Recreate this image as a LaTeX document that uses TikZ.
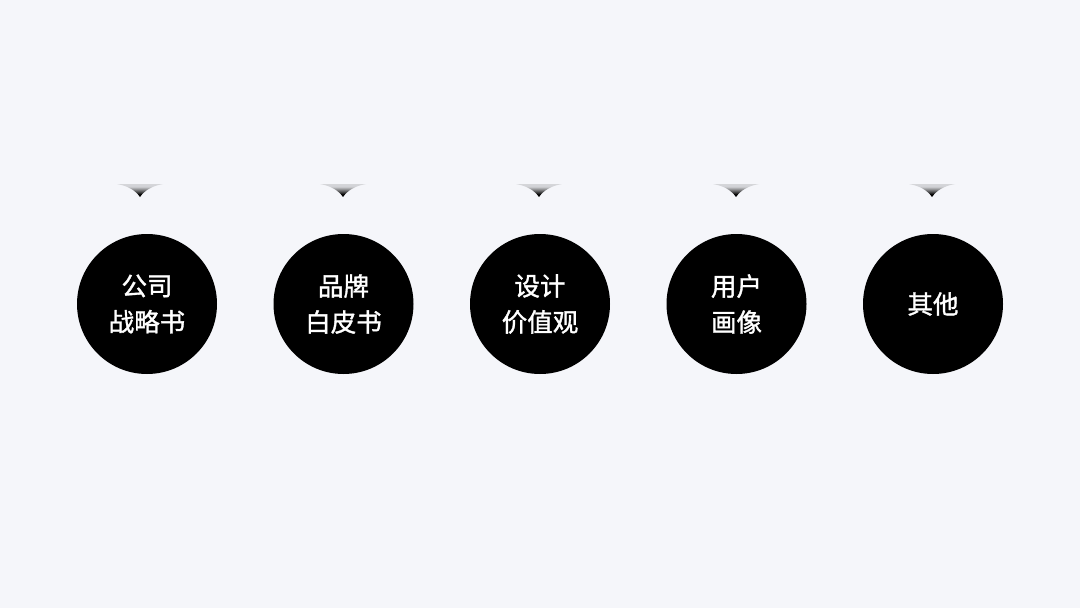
\documentclass[tikz,border=0pt]{standalone}
\usepackage{fontspec}
\newfontfamily\cjk[FakeBold=1.3]{Noto Sans CJK SC}
\definecolor{bg}{HTML}{F5F6FA}
\pgfdeclareverticalshading{pointershade}{100bp}{%
  color(0bp)=(black); color(35bp)=(black); color(50bp)=(black!55!bg);
  color(65bp)=(black!15!bg); color(100bp)=(black!8!bg)}
\begin{document}
\begin{tikzpicture}[x=1pt,y=-1pt,
  disc/.style={circle,fill=black,minimum size=140pt,inner sep=0pt,text=white,
    align=center,font=\cjk\fontsize{25.5}{36}\selectfont},
  pointer/.style={shading=pointershade,draw=none}]
\fill[bg] (0,0) rectangle (1080,608);
\useasboundingbox (0,0) rectangle (1080,608);
\newcommand\pointerat[1]{%
  \shade[pointer] (#1-23,184) .. controls (#1-12,186) and (#1-5,190) .. (#1,197)
    .. controls (#1+5,190) and (#1+12,186) .. (#1+23,184) -- cycle;}
\pointerat{140}
\pointerat{343}
\pointerat{539}
\pointerat{736}
\pointerat{932}
\node[disc] (c1) at (147,304) {公司\\战略书};
\node[disc] (c2) at (343.5,304) {品牌\\白皮书};
\node[disc] (c3) at (540,304) {设计\\价值观};
\node[disc] (c4) at (736.5,304) {用户\\画像};
\node[disc] (c5) at (933,304) {其他};
\end{tikzpicture}
\end{document}
